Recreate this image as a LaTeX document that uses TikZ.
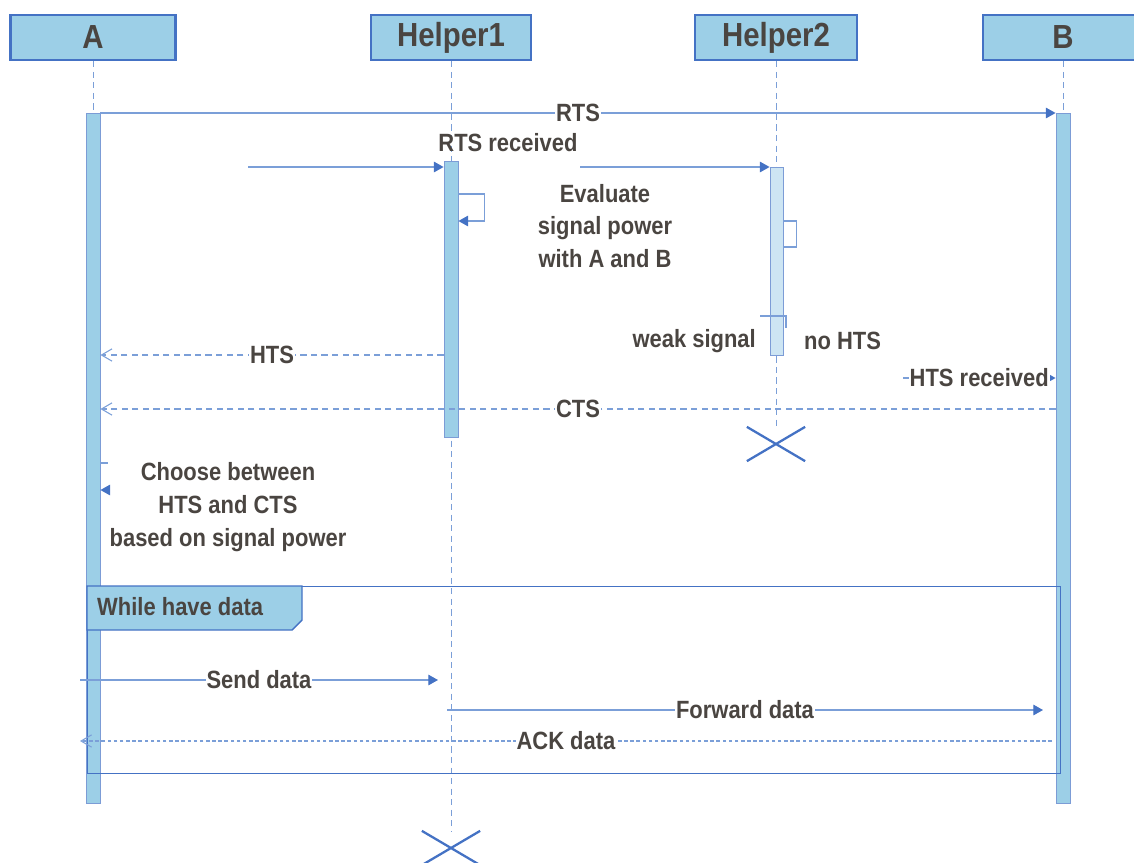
\documentclass[tikz,border=0pt]{standalone}
\usepackage{fontspec}
\setmainfont{Liberation Sans}[FakeStretch=0.88]
\usetikzlibrary{arrows.meta,shapes.misc,positioning}

\definecolor{boxfill}{HTML}{9CCFE7}
\definecolor{boxline}{HTML}{4472C4}
\definecolor{msgline}{HTML}{7B9FD8}
\definecolor{barlight}{HTML}{CDE5F3}
\definecolor{txtgray}{HTML}{4A4541}

\begin{document}
\begin{tikzpicture}[x=0.02cm, y=-0.02cm,
    actor/.style={draw=boxline, line width=1.4pt, fill=boxfill, minimum height=0.9cm,
        inner sep=0pt, text=txtgray, font=\fontsize{19}{20}\selectfont\bfseries},
    bar/.style={draw=boxline!70, line width=0.5pt, fill=boxfill, minimum width=0.28cm,
        inner sep=0pt, anchor=north},
    lifeline/.style={msgline, line width=0.5pt, dash pattern=on 3.5pt off 2.5pt},
    msg/.style={msgline, line width=0.7pt, -{Triangle[length=5.5pt,width=6pt,color=boxline]}},
    reply/.style={msgline, line width=0.6pt, dash pattern=on 3.5pt off 2.5pt,
        -{Straight Barb[length=6pt,width=7pt]}},
    lbl/.style={text=txtgray, align=center, font=\fontsize{14.2}{18.7}\selectfont\bfseries},
    onlbl/.style={lbl, fill=white, inner sep=0.5pt},
    frame/.style={draw=boxline, line width=0.8pt, inner sep=0pt},
    kill/.style={draw=boxline, cross out, line width=1.3pt, minimum width=1.12cm,
        minimum height=0.64cm, inner sep=0pt}]
    \useasboundingbox (0,0) rectangle (1134,863);

    % Participants
    \node[actor, minimum width=3.3cm] (A) at (93,37.5) {A};
    \node[actor, minimum width=3.2cm] (Helper1) at (451,37.5) {Helper1};
    \node[actor, minimum width=3.24cm] (Helper2) at (776,37.5) {Helper2};
    \node[actor, minimum width=3.2cm] (B) at (1063,37.5) {B};

    % End of the helpers
    \node[kill] (killH1) at (451,848) {};
    \node[kill] (killH2) at (776,444) {};

    % Lifelines
    \draw[lifeline] (A.south) -- ++(0,740);
    \draw[lifeline] (Helper1.south) -- (killH1.north);
    \draw[lifeline] (Helper2.south) -- (killH2.north);
    \draw[lifeline] (B.south) -- ++(0,740);

    % Activations
    \node[bar, minimum height=13.8cm] (barA) at (93,113) {};
    \node[bar, minimum height=13.8cm] (barB) at (1063,113) {};
    \node[bar, minimum height=5.52cm] (barH1) at (451,161) {};
    \node[bar, minimum height=3.76cm, minimum width=0.26cm, fill=barlight] (barH2) at (776.5,167) {};

    % Message levels
    \coordinate (yrtsrx) at (0,167);
    \coordinate (yevalA) at (0,194);
    \coordinate (yevalB) at (0,221);
    \coordinate (yhts) at (0,355);
    \coordinate (yhtsrx) at (0,378);
    \coordinate (ycts) at (0,409);
    \coordinate (ychoose) at (0,463);

    % RTS
    \draw[msg] (barA.north east) -- (barB.north west) node[onlbl, midway] {RTS};
    \coordinate (rtsA) at (248,167);
    \coordinate (rtsB) at (580,167);
    \draw[msg] (rtsA) -- (barH1.west |- yrtsrx);
    \node[lbl] (rtsrx) at (508,143) {RTS received};
    \draw[msg] (rtsB) -- (barH2.north west);

    % Evaluate signal power
    \draw[msg] (barH1.east |- yevalA) -- ++(26,0) -- ++(0,27) -- ++(-26,0);
    \draw[msgline, line width=0.6pt] (barH2.east |- yevalB) -- ++(13,0) -- ++(0,26) -- ++(-13,0);
    \node[lbl] (evaltxt) at (605,226) {Evaluate\\signal power\\with A and B};

    % Weak signal at Helper2
    \coordinate (weakA) at (760,316);
    \draw[msgline, line width=0.6pt] (weakA) -- ++(26,0) -- ++(0,12);
    \node[lbl, anchor=east] (weak) at (762,341) {weak signal};
    \node[lbl, anchor=west] (nohts) at (798,341) {no HTS};

    % HTS and CTS
    \draw[reply] (barH1.west |- yhts) -- (barA.east |- yhts) node[onlbl, midway] {HTS};
    \coordinate (htsB) at (903,378);
    \draw[msg] (htsB) -- (barB.west |- yhtsrx) node[onlbl, pos=0.5] {HTS received};
    \draw[reply] (barB.west |- ycts) -- (barA.east |- ycts) node[onlbl, midway] {CTS};

    % Choice at A
    \draw[msg] (barA.east |- ychoose) -- ++(8,0) ++(0,27) -- ++(-8,0);
    \node[lbl] (choosetxt) at (228,507) {Choose between\\HTS and CTS\\based on signal power};

    % Loop frame
    \node[frame, minimum width=19.46cm, minimum height=3.74cm, anchor=north west] (loop) at (87,586) {};
    \draw[draw=boxline, line width=0.8pt, fill=boxfill] (loop.north west) -- ++(215,0) -- ++(0,34)
        -- ++(-10,10) -- ++(-205,0) -- cycle;
    \node[lbl, anchor=west] (looplbl) at (91,607) {While have data};

    % Data transfer
    \coordinate (sendA) at (80,680);
    \coordinate (sendH1) at (438,680);
    \draw[msg] (sendA) -- (sendH1) node[onlbl, midway] {Send data};
    \coordinate (fwdH1) at (447,710);
    \coordinate (fwdB) at (1043,710);
    \draw[msg] (fwdH1) -- (fwdB) node[onlbl, midway] {Forward data};
    \coordinate (ackB) at (1052,741);
    \coordinate (ackA) at (80,741);
    \draw[reply, dash pattern=on 2pt off 1.5pt] (ackB) -- (ackA) node[onlbl, midway] {ACK data};
\end{tikzpicture}
\end{document}
